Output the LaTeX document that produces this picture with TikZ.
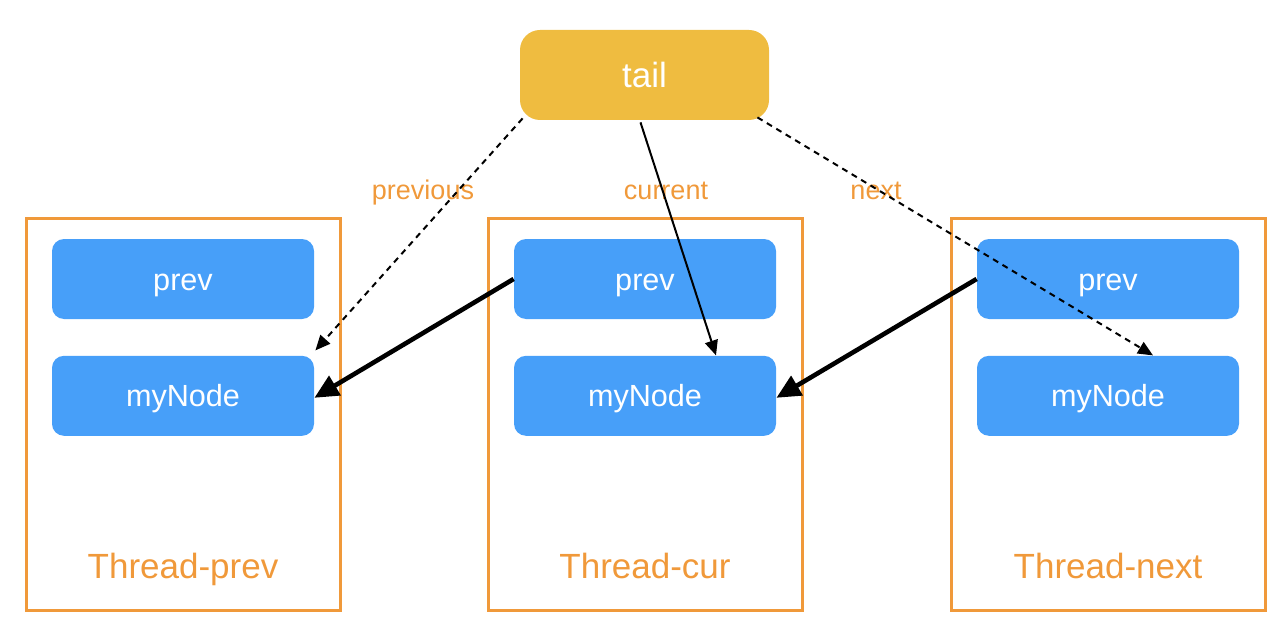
\documentclass[tikz,border=0pt]{standalone}
\usepackage{fontspec}
\setmainfont{Liberation Sans}
\usetikzlibrary{positioning}
\usetikzlibrary{arrows.meta}
\definecolor{tailyellow}{HTML}{EFBC40}
\definecolor{mblue}{HTML}{479FF9}
\definecolor{morange}{HTML}{F0993A}
\tikzset{every node/.style={text depth=0pt}}
\tikzset{thread/.style = {draw=morange, line width=1.5pt, inner sep=0,
                          minimum width=157pt, minimum height=196pt}}
\tikzset{field/.style = {fill=mblue, rounded corners=6pt, inner sep=0,
                         minimum width=131pt, minimum height=40pt, text=white,
                         text height=11pt, font=\fontsize{15.3}{17}\selectfont}}
\tikzset{ptr/.style = {font=\fontsize{13.5}{15}\selectfont, text=morange,
                       text height=9.7pt}}
\tikzset{tname/.style = {font=\fontsize{17.5}{19}\selectfont, text=morange,
                         text height=12.6pt}}
\tikzset{weak/.style = {line width=1pt, dash pattern=on 3pt off 2.5pt,
                        -{Triangle[length=7.5pt,width=6.5pt]}}}
\tikzset{strong/.style = {line width=2.3pt, -{Triangle[length=12pt,width=11pt]}}}

\begin{document}
\begin{tikzpicture}[x=0.5pt, y=-0.5pt]
          \useasboundingbox (0,0) rectangle (1288,636);
          % the three threads
          \node[thread] (t-prev) at (183,414) {};
          \node[thread] (t-cur) at (645,414) {};
          \node[thread] (t-next) at (1108,414) {};
          \node[tname] (l-prev) at (183,566) {Thread-prev};
          \node[tname] (l-cur) at (645,566) {Thread-cur};
          \node[tname] (l-next) at (1108,566) {Thread-next};
          % fields
          \node[field] (prev-prev) at (183,279) {prev};
          \node[field, below=18pt of prev-prev] (prev-node) {myNode};
          \node[field] (cur-prev) at (645,279) {prev};
          \node[field, below=18pt of cur-prev] (cur-node) {myNode};
          \node[field] (next-prev) at (1108,279) {prev};
          \node[field, below=18pt of next-prev] (next-node) {myNode};
          % tail
          \node[fill=tailyellow, rounded corners=10pt, minimum width=124.5pt,
                minimum height=45pt, text=white, text height=12.6pt,
                font=\fontsize{17.5}{19}\selectfont]
            (tail) at (644.5,75) {tail};
          \node[ptr] (previous) at (423,190) {previous};
          \node[ptr] (current) at (666,190) {current};
          \node[ptr] (next) at (876,190) {next};
          % pointers
          \draw[weak] ([xshift=1.5pt,yshift=1pt]tail.south west)
            -- ([xshift=0.5pt,yshift=2.5pt]prev-node.north east);
          \draw[line width=1pt, -{Triangle[length=7.5pt,width=6.5pt]}]
            ([xshift=-2pt,yshift=-1pt]tail.south) -- ([xshift=35.5pt]cur-node.north);
          \draw[weak] ([xshift=-6pt,yshift=1.5pt]tail.south east)
            -- ([xshift=22.5pt]next-node.north);
          \draw[strong] (cur-prev.west) -- ([yshift=-1pt]prev-node.east);
          \draw[strong] (next-prev.west) -- ([yshift=-1pt]cur-node.east);
\end{tikzpicture}
\end{document}
